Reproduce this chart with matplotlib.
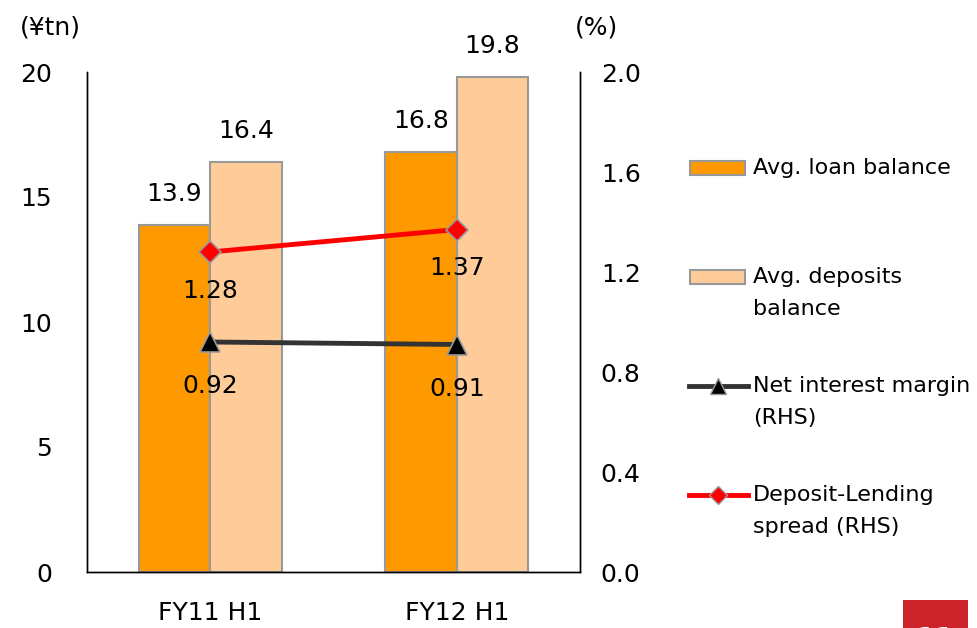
import matplotlib.pyplot as plt
from matplotlib.lines import Line2D
from matplotlib.patches import Rectangle
import numpy as np

plt.rcParams['font.family'] = ['DejaVu Sans']

# data
periods = ["FY11 H1", "FY12 H1"]
loan_balance = [13.9, 16.8]
deposit_balance = [16.4, 19.8]
nim = [0.92, 0.91]
spread = [1.28, 1.37]

loan_color = '#FF9900'
deposit_color = '#FFCC99'
edge_color = '#999999'
nim_color = '#333333'
spread_color = '#FF0000'
fs = 18
lfs = 16

fig = plt.figure(figsize=(9.78, 6.28), dpi=100)
ax = fig.add_axes([87 / 978, 1 - 572 / 628, 493 / 978, 500 / 628])
ax2 = ax.twinx()

x = np.arange(len(periods))
w = 0.29
b1 = ax.bar(x - w / 2, loan_balance, w, color=loan_color, edgecolor=edge_color, linewidth=1.5)
b2 = ax.bar(x + w / 2, deposit_balance, w, color=deposit_color, edgecolor=edge_color, linewidth=1.5)
for bars in (b1, b2):
    for r in bars:
        ax.annotate(f"{r.get_height():.1f}", (r.get_x() + r.get_width() / 2, r.get_height()),
                    xytext=(0, 22), textcoords='offset points', ha='center', va='center', fontsize=fs)

ax2.plot(x, spread, color=spread_color, lw=3.5, marker='D', ms=11, mfc=spread_color,
         mec=edge_color, mew=1.2, zorder=5)
ax2.plot(x, nim, color=nim_color, lw=3.5, marker='^', ms=14, mfc='black',
         mec=edge_color, mew=1.2, zorder=5)
for xi, v in zip(x, spread):
    ax2.annotate(f"{v:.2f}", (xi, v), xytext=(0, -28), textcoords='offset points',
                 ha='center', va='center', fontsize=fs)
for xi, v in zip(x, nim):
    ax2.annotate(f"{v:.2f}", (xi, v), xytext=(0, -32), textcoords='offset points',
                 ha='center', va='center', fontsize=fs)

ax.set_xlim(-0.5, 1.5)
ax.set_ylim(0, 20)
ax.set_yticks([0, 5, 10, 15, 20])
ax2.set_ylim(0, 2.0)
ax2.set_yticks([0, 0.4, 0.8, 1.2, 1.6, 2.0])
ax2.set_yticklabels([f"{t:.1f}" for t in [0, 0.4, 0.8, 1.2, 1.6, 2.0]])
ax.set_xticks(x)
ax.set_xticklabels(periods)

ax.tick_params(axis='y', length=0, pad=25, labelsize=fs)
ax.tick_params(axis='x', length=0, pad=21, labelsize=fs)
ax2.tick_params(axis='y', length=0, pad=15, labelsize=fs)
for a in (ax, ax2):
    a.spines['top'].set_visible(False)
    for s in a.spines.values():
        s.set_linewidth(1.0)

fig.text(20 / 978, 1 - 28 / 628, "(¥tn)", fontsize=fs, va='center', ha='left')
fig.text(575 / 978, 1 - 28 / 628, "(%)", fontsize=fs, va='center', ha='left')

# legend drawn by hand so handles sit on the first text line
entries = [
    ('patch', loan_color, None, ["Avg. loan balance"]),
    ('patch', deposit_color, None, ["Avg. deposits", "balance"]),
    ('line', nim_color, '^', ["Net interest margin", "(RHS)"]),
    ('line', spread_color, 'D', ["Deposit-Lending", "spread (RHS)"]),
]
for i, (kind, col, mk, lines) in enumerate(entries):
    yp = 168 + 109 * i
    yf = 1 - yp / 628
    if kind == 'patch':
        fig.add_artist(Rectangle((690 / 978, yf - 7 / 628), 55 / 978, 14 / 628,
                                 facecolor=col, edgecolor=edge_color, lw=1.5,
                                 transform=fig.transFigure))
    else:
        fig.add_artist(Line2D([689 / 978, 748 / 978], [yf, yf], color=col, lw=3.5,
                              transform=fig.transFigure))
        fig.add_artist(Line2D([718 / 978], [yf], marker=mk, ms=11 if mk == '^' else 9,
                              mfc='black' if mk == '^' else col, mec=edge_color, mew=1,
                              transform=fig.transFigure))
    for j, t in enumerate(lines):
        fig.text(753 / 978, 1 - (yp + 32 * j) / 628, t, fontsize=lfs, va='center', ha='left')

# page number box
fig.add_artist(Rectangle((903 / 978, 0), 65 / 978, 28 / 628, facecolor='#CC2229',
                         edgecolor='none', transform=fig.transFigure))
fig.text(935 / 978, -12 / 628, "11", color='white', fontsize=20, fontweight='bold',
         ha='center', va='center')

fig.savefig('out.png', dpi=100)
